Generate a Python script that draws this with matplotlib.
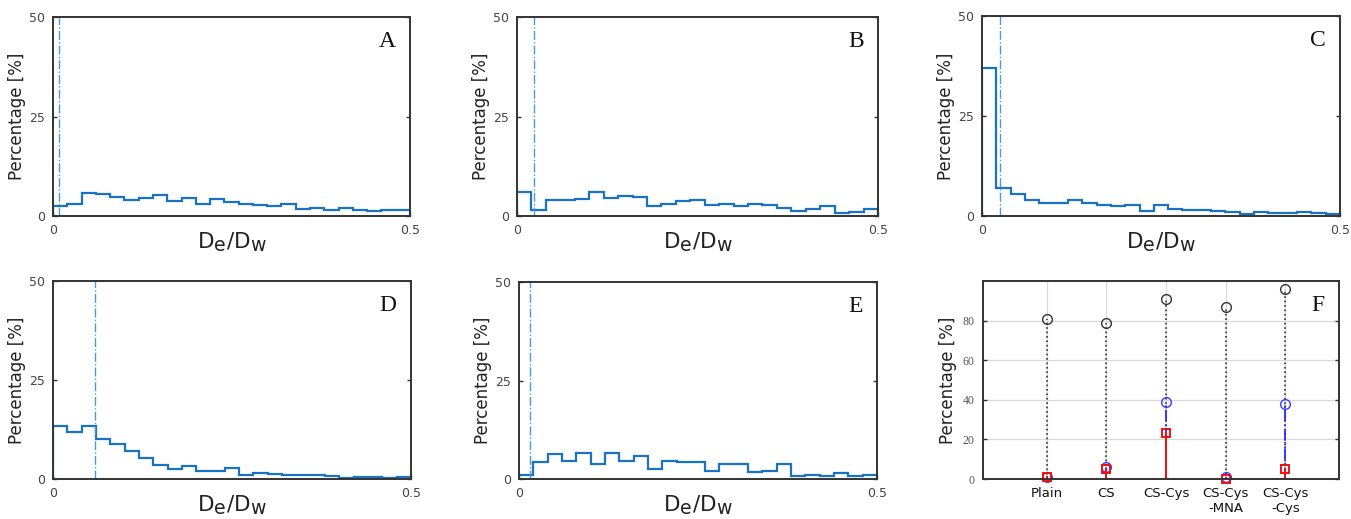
import numpy as np
import matplotlib
matplotlib.use("Agg")
import matplotlib.pyplot as plt
import matplotlib._mathtext as _mt

# larger subscripts so the label reads like the reference "De/Dw"
_mt.SHRINK_FACTOR = 0.88

# ---------------- data ----------------
bin_edges = np.linspace(0, 0.5, 26)

hist_A = [2.4, 3.0, 5.7, 5.5, 4.7, 4.0, 4.6, 5.3, 3.8, 4.6, 3.1, 4.2, 3.5,
          3.0, 2.8, 2.6, 3.0, 1.8, 2.0, 1.5, 2.1, 1.6, 1.35, 1.6, 1.6]
hist_B = [6.1, 1.5, 4.0, 4.0, 4.3, 6.1, 4.5, 5.0, 4.8, 2.5, 2.9, 3.8, 4.0,
          2.7, 3.0, 2.4, 3.0, 2.7, 2.0, 1.25, 1.8, 2.4, 0.8, 1.1, 1.75]
hist_C = [37.0, 7.1, 5.6, 4.0, 3.3, 3.3, 3.9, 3.3, 2.7, 2.4, 2.8, 1.3, 2.8,
          1.75, 1.5, 1.5, 1.25, 0.9, 0.6, 1.1, 0.7, 0.7, 1.0, 0.8, 0.4]
hist_D = [13.3, 11.8, 13.3, 10.2, 8.8, 7.1, 5.4, 3.6, 2.4, 3.3, 2.1, 2.1, 2.9,
          1.1, 1.4, 1.2, 0.9, 1.0, 0.9, 0.85, 0.25, 0.6, 0.6, 0.2, 0.4]
hist_E = [1.1, 4.3, 6.4, 4.6, 6.7, 3.8, 6.7, 4.6, 5.9, 2.5, 4.6, 4.3, 4.2,
          2.1, 3.8, 3.8, 1.7, 2.1, 3.8, 0.7, 0.9, 0.7, 1.6, 0.7, 1.1]

threshold_A = 0.008
threshold_B = 0.023
threshold_C = 0.025
threshold_D = 0.059
threshold_E = 0.015

panel_labels = ["A", "B", "C", "D", "E", "F"]

categories_F = ["Plain", "CS", "CS-Cys", "CS-Cys\n-MNA", "CS-Cys\n-Cys"]
black_F = [81, 79, 91, 87, 96]
blue_F = [1, 6, 39, 1.2, 38]
red_F = [1, 5, 23, 0, 5]

# ---------------- figure ----------------
W, H = 1351, 519
fig = plt.figure(figsize=(W / 100, H / 100), dpi=100)


def px_axes(x0, x1, y0, y1):
    return fig.add_axes([x0 / W, (H - y1) / H, (x1 - x0) / W, (y1 - y0) / H])


hist_color = "#1a72c4"
vline_color = "#4a9ad8"
tick_gray = "#444444"
spine_col = "#333333"

xlabel_txt = r"D$_\mathregular{e}$/D$_\mathregular{w}$"

hist_boxes = [
    (53, 410, 17, 216),
    (517, 878, 17, 216),
    (982, 1340, 16, 216),
    (53, 411, 281, 479),
    (519, 877, 282, 479),
]
hists = [hist_A, hist_B, hist_C, hist_D, hist_E]
thresholds = [threshold_A, threshold_B, threshold_C, threshold_D, threshold_E]

for box, vals, thr, lab in zip(hist_boxes, hists, thresholds, panel_labels):
    ax = px_axes(*box)
    ax.stairs(vals, bin_edges, baseline=0, color=hist_color, linewidth=1.6)
    ax.axvline(thr, color=vline_color, linestyle="-.", linewidth=1.0)
    ax.set_xlim(0, 0.5)
    ax.set_ylim(0, 50)
    ax.set_xticks([0, 0.5])
    ax.set_xticklabels(["0", "0.5"])
    ax.set_yticks([0, 25, 50])
    ax.tick_params(direction="in", length=3, width=1, colors=spine_col,
                   labelcolor=tick_gray, labelsize=9, right=True, top=False,
                   pad=6)
    for s in ax.spines.values():
        s.set_linewidth(1.4)
        s.set_color(spine_col)
    ax.set_ylabel("Percentage [%]", fontsize=12, color="#222222", labelpad=2)
    ax.set_xlabel(xlabel_txt, fontsize=15.5, color="#222222", labelpad=-5)
    ax.text(0.96, 0.93, lab, transform=ax.transAxes, ha="right", va="top",
            fontsize=17, family="Liberation Serif", color="#111111")

# ---------------- panel F ----------------
axF = px_axes(983, 1339, 281, 479)
pos = np.arange(1, len(categories_F) + 1)
axF.set_xlim(-0.07, 5.9)
axF.set_ylim(0, 100)
axF.grid(True, color="#d9d9d9", linewidth=0.9)
axF.set_axisbelow(True)
for x, b, bl, r in zip(pos, black_F, blue_F, red_F):
    axF.plot([x, x], [0, b], color="#333333", linestyle=":", linewidth=1.2)
    axF.plot([x, x], [0, bl], color="#2b2bff", linestyle="-.", linewidth=1.3)
    axF.plot([x, x], [0, r], color="#ee1111", linestyle="-", linewidth=1.4)
axF.plot(pos, black_F, "o", mfc="none", mec="#333333", ms=7, mew=1.0, clip_on=False)
axF.plot(pos, blue_F, "o", mfc="none", mec="#3a3aff", ms=7, mew=1.0, clip_on=False)
axF.plot(pos, red_F, "s", mfc="none", mec="#ee1111", ms=6, mew=1.4, clip_on=False)
axF.set_xticks(pos)
axF.set_xticklabels(categories_F, fontsize=9.5, color="#111111")
axF.set_yticks([0, 20, 40, 60, 80])
for t in axF.get_yticklabels():
    t.set_family("Liberation Serif")
axF.tick_params(axis="y", direction="in", length=3, width=1, colors=spine_col,
                labelcolor="#555555", labelsize=8.5, right=True, pad=6)
axF.tick_params(axis="x", length=0, pad=6)
for s in axF.spines.values():
    s.set_linewidth(1.4)
    s.set_color(spine_col)
axF.set_ylabel("Percentage [%]", fontsize=12, color="#222222", labelpad=4)
axF.text(0.96, 0.93, "F", transform=axF.transAxes, ha="right", va="top",
         fontsize=17, family="Liberation Serif", color="#111111")

fig.savefig("out.png", dpi=100, facecolor="white")
